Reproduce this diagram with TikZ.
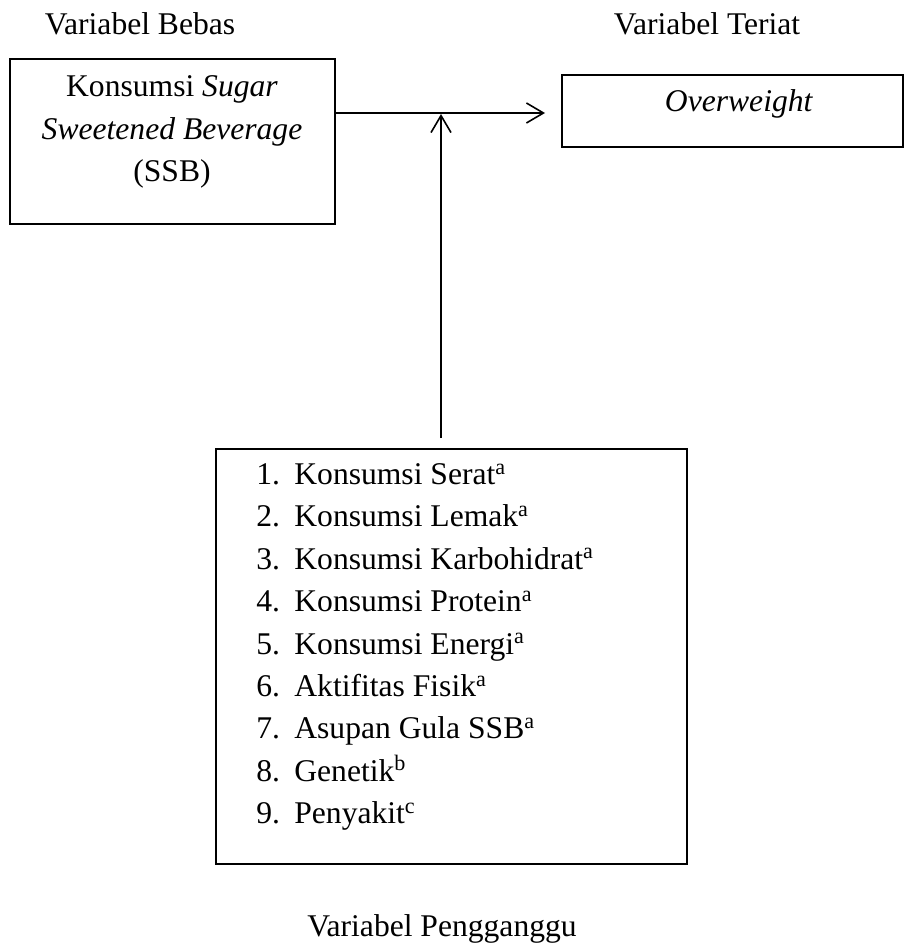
\documentclass[tikz,border=0pt]{standalone}
\usepackage{fontspec}
\setmainfont{Liberation Serif}
\usetikzlibrary{positioning,arrows.meta}
\tikzset{
  vararr/.style={-{Straight Barb[length=8.5pt,width=10pt]},line width=0.8pt},
  block/.style={draw=black,line width=0.8pt,inner sep=0pt},
  blocktext/.style={align=center,inner sep=0pt},
  listtext/.style={align=left,inner sep=0pt},
  head/.style={inner sep=0pt}
}
\newcommand{\varitem}[3]{\makebox[19pt][l]{#1.}#2\textsuperscript{#3}}

\begin{document}
\begin{tikzpicture}[x=0.5pt,y=-0.5pt,every node/.style={font=\fontsize{15.8}{21.2}\selectfont}]
\useasboundingbox (0,0) rectangle (905,946);

\node[head] (bebas) at (140,24) {Variabel Bebas};
\node[head] (teriat) at (707,24) {Variabel Teriat};

\node[block, minimum width=162.5pt, minimum height=82.5pt] (ssb) at (172.5,141.5) {};
\node[blocktext] (ssbtext) at (172,132)
   {Konsumsi \textit{Sugar}\\ \textit{Sweetened Beverage}\\ (SSB)};

\node[block, minimum width=170.5pt, minimum height=36pt] (ow) at (732.5,111) {};
\node[blocktext] (owtext) at (739,104) {\textit{Overweight}};

\node[block, minimum width=235.5pt, minimum height=207.5pt] (conf) at (451.5,656.5) {};
\node[listtext, anchor=west] (conftext) at (256,647)
   {\varitem{1}{Konsumsi Serat}{a}\\
    \varitem{2}{Konsumsi Lemak}{a}\\
    \varitem{3}{Konsumsi Karbohidrat}{a}\\
    \varitem{4}{Konsumsi Protein}{a}\\
    \varitem{5}{Konsumsi Energi}{a}\\
    \varitem{6}{Aktifitas Fisik}{a}\\
    \varitem{7}{Asupan Gula SSB}{a}\\
    \varitem{8}{Genetik}{b}\\
    \varitem{9}{Penyakit}{c}};

\node[head] (pengganggu) at (442,929) {Variabel Pengganggu};

\coordinate (tip) at (545,113);
\coordinate (meet) at (441,114);
\draw[vararr] (ssb.east |- tip) -- (tip);
\draw[vararr] ([yshift=5pt]conf.north -| meet) -- (meet);
\end{tikzpicture}
\end{document}
